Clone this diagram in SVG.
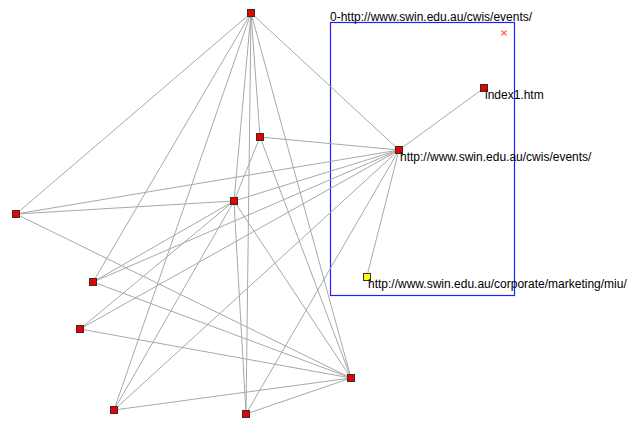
<svg xmlns="http://www.w3.org/2000/svg" width="644" height="421" viewBox="0 0 644 421">
  <style>
    .edge { stroke: #a8a8a8; stroke-width: 1; fill: none; }
    .node rect { stroke: #303030; stroke-width: 1; }
    .page rect { fill: #ee0000; }
    .seed rect { fill: #ffff00; }
    .lbl { font-family: "Liberation Sans", Arial, sans-serif; font-size: 12px; fill: #000; }
  </style>
  <rect width="644" height="421" fill="#ffffff"/>

  <!-- cluster frame -->
  <g id="cluster">
    <rect x="330.5" y="22.5" width="184" height="273" fill="none" stroke="#2020ff" stroke-width="1.2"/>
    <text class="lbl" x="330" y="21">0-http://www.swin.edu.au/cwis/events/</text>
    <path d="M501.5 30.5 L506.5 35.5 M506.5 30.5 L501.5 35.5" stroke="#ff6060" stroke-width="1.2"/>
  </g>

  <!-- links -->
  <g id="connectors" class="edge">
    <line x1="251" y1="13" x2="16" y2="214"/>
    <line x1="251" y1="13" x2="93" y2="282"/>
    <line x1="251" y1="13" x2="114" y2="410"/>
    <line x1="251" y1="13" x2="234" y2="201"/>
    <line x1="251" y1="13" x2="260" y2="137"/>
    <line x1="251" y1="13" x2="246" y2="414"/>
    <line x1="251" y1="13" x2="351" y2="378"/>
    <line x1="251" y1="13" x2="399" y2="150"/>
    <line x1="260" y1="137" x2="234" y2="201"/>
    <line x1="260" y1="137" x2="399" y2="150"/>
    <line x1="260" y1="137" x2="351" y2="378"/>
    <line x1="234" y1="201" x2="16" y2="214"/>
    <line x1="234" y1="201" x2="399" y2="150"/>
    <line x1="234" y1="201" x2="93" y2="282"/>
    <line x1="234" y1="201" x2="80" y2="329"/>
    <line x1="234" y1="201" x2="114" y2="410"/>
    <line x1="234" y1="201" x2="246" y2="414"/>
    <line x1="234" y1="201" x2="351" y2="378"/>
    <line x1="16" y1="214" x2="399" y2="150"/>
    <line x1="16" y1="214" x2="351" y2="378"/>
    <line x1="93" y1="282" x2="399" y2="150"/>
    <line x1="93" y1="282" x2="351" y2="378"/>
    <line x1="80" y1="329" x2="399" y2="150"/>
    <line x1="80" y1="329" x2="351" y2="378"/>
    <line x1="114" y1="410" x2="399" y2="150"/>
    <line x1="114" y1="410" x2="351" y2="378"/>
    <line x1="246" y1="414" x2="399" y2="150"/>
    <line x1="246" y1="414" x2="351" y2="378"/>
    <line x1="399" y1="150" x2="484" y2="88"/>
    <line x1="399" y1="150" x2="367" y2="276"/>
  </g>

  <!-- pages -->
  <g id="n-top" class="node page"><rect x="247.5" y="9.5" width="7" height="7"/></g>
  <g id="n-b" class="node page"><rect x="256.5" y="133.5" width="7" height="7"/></g>
  <g id="n-c" class="node page"><rect x="230.5" y="197.5" width="7" height="7"/></g>
  <g id="n-d" class="node page"><rect x="12.5" y="210.5" width="7" height="7"/></g>
  <g id="n-e" class="node page"><rect x="89.5" y="278.5" width="7" height="7"/></g>
  <g id="n-f" class="node page"><rect x="76.5" y="325.5" width="7" height="7"/></g>
  <g id="n-g" class="node page"><rect x="110.5" y="406.5" width="7" height="7"/></g>
  <g id="n-h" class="node page"><rect x="242.5" y="410.5" width="7" height="7"/></g>
  <g id="n-i" class="node page"><rect x="347.5" y="374.5" width="7" height="7"/></g>
  <g id="n-events" class="node page">
    <rect x="395.5" y="146.5" width="7" height="7"/>
    <text class="lbl" x="400" y="161">http://www.swin.edu.au/cwis/events/</text>
  </g>
  <g id="n-index1" class="node page">
    <rect x="480.5" y="84.5" width="7" height="7"/>
    <text class="lbl" x="485" y="99">index1.htm</text>
  </g>
  <g id="n-miu" class="node seed">
    <rect x="363.5" y="273.5" width="7" height="7"/>
    <text class="lbl" x="368" y="288">http://www.swin.edu.au/corporate/marketing/miu/</text>
  </g>
</svg>
